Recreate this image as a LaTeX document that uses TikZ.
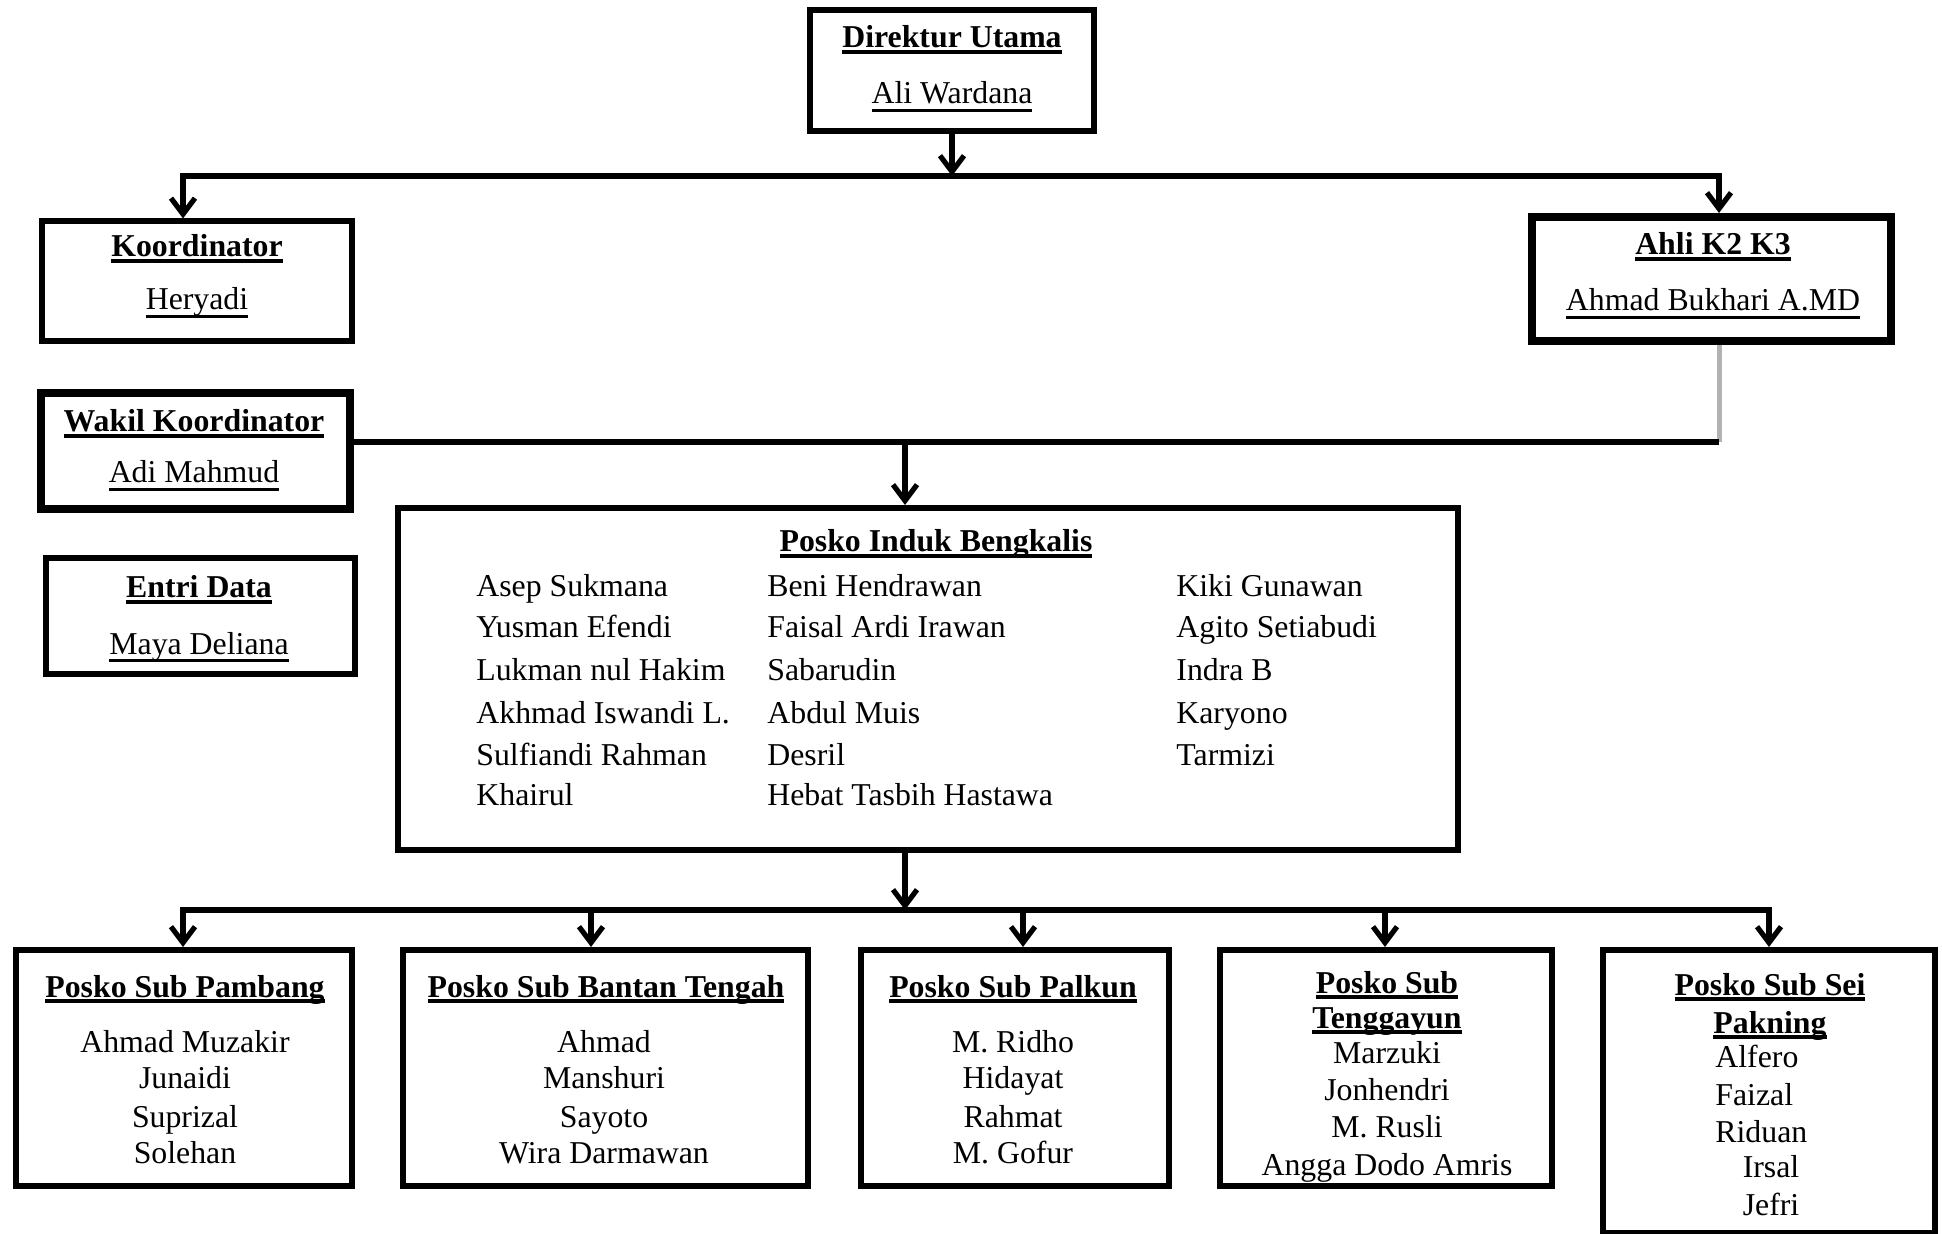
\documentclass[tikz,border=0pt]{standalone}
\usepackage{fontspec}
\setmainfont{Liberation Serif}
\usetikzlibrary{arrows.meta}
\newcommand\ulx[3]{\leavevmode\setbox0\hbox{#3}\rlap{\rule[#1]{\wd0}{#2}}\box0}
\newcommand\ulb[1]{\ulx{-3pt}{2pt}{\textbf{#1}}}
\newcommand\ulr[1]{\ulx{-3.8pt}{1.1pt}{#1}}
\begin{document}
\begin{tikzpicture}[x=0.5pt,y=-0.5pt,
  box/.style={draw, line width=3pt, inner sep=0pt},
  thickbox/.style={box, line width=4pt},
  txt/.style={inner sep=0pt, font=\fontsize{15.9pt}{19pt}\selectfont},
  conn/.style={line width=2.6pt},
  arr/.style={conn, -{Straight Barb[length=8pt,width=12pt]}},
  shade/.style={draw=black!30, line width=2.5pt},
]
\path[fill=white, use as bounding box] (0,0) rectangle (1942,1234);

% top level
\node[box, minimum width=142pt, minimum height=60.5pt] (dir) at (952,70.5) {};
\node[txt, anchor=base] (dirT) at (952,48) {\ulb{Direktur Utama}};
\node[txt, anchor=base] (dirN) at (952,104) {\ulr{Ali Wardana}};

\node[box, minimum width=155pt, minimum height=60pt] (koord) at (196.5,281.5) {};
\node[txt, anchor=base] (koordT) at (197,257) {\ulb{Koordinator}};
\node[txt, anchor=base] (koordN) at (197,310) {\ulr{Heryadi}};

\node[thickbox, minimum width=154.5pt, minimum height=58pt] (wakil) at (195.5,451.5) {};
\node[txt, anchor=base] (wakilT) at (194,432) {\ulb{Wakil Koordinator}};
\node[txt, anchor=base] (wakilN) at (194,483) {\ulr{Adi Mahmud}};

\node[box, minimum width=154.5pt, minimum height=58pt] (entri) at (200.5,616) {};
\node[txt, anchor=base] (entriT) at (199,598) {\ulb{Entri Data}};
\node[txt, anchor=base] (entriN) at (199,654) {\ulr{Maya Deliana}};

\node[thickbox, minimum width=179.5pt, minimum height=62pt] (ahli) at (1711.5,279) {};
\node[txt, anchor=base] (ahliT) at (1713,255) {\ulb{Ahli K2 K3}};
\node[txt, anchor=base] (ahliN) at (1713,311) {\ulr{Ahmad Bukhari A.MD}};

% posko induk
\node[box, minimum width=530pt, minimum height=171pt] (induk) at (928,679) {};
\node[txt, anchor=base] (indukT) at (936,552) {\ulb{Posko Induk Bengkalis}};
\foreach \n/\y in {Asep Sukmana/597, Yusman Efendi/638, Lukman nul Hakim/680, Akhmad Iswandi L./723, Sulfiandi Rahman/765, Khairul/805}
  \node[txt, anchor=base west] (ia\y) at (476,\y) {\n};
\foreach \n/\y in {Beni Hendrawan/597, Faisal Ardi Irawan/638, Sabarudin/680, Abdul Muis/723, Desril/765, Hebat Tasbih Hastawa/805}
  \node[txt, anchor=base west] (ib\y) at (767,\y) {\n};
\foreach \n/\y in {Kiki Gunawan/597, Agito Setiabudi/638, Indra B/680, Karyono/723, Tarmizi/765}
  \node[txt, anchor=base west] (ic\y) at (1176,\y) {\n};

% sub posko
\node[box, minimum width=168pt, minimum height=118pt] (pam) at (184,1068) {};
\node[txt, anchor=base] (pamT) at (185,997) {\ulb{Posko Sub Pambang}};
\foreach \n/\y in {Ahmad Muzakir/1052, Junaidi/1088, Suprizal/1127, Solehan/1163}
  \node[txt, anchor=base] (pa\y) at (185,\y) {\n};

\node[box, minimum width=202.5pt, minimum height=118pt] (ban) at (605.5,1068) {};
\node[txt, anchor=base] (banT) at (606,997) {\ulb{Posko Sub Bantan Tengah}};
\foreach \n/\y in {Ahmad/1052, Manshuri/1088, Sayoto/1127, Wira Darmawan/1163}
  \node[txt, anchor=base] (ba\y) at (604,\y) {\n};

\node[box, minimum width=154pt, minimum height=118pt] (pal) at (1015,1068) {};
\node[txt, anchor=base] (palT) at (1013,997) {\ulb{Posko Sub Palkun}};
\foreach \n/\y in {M. Ridho/1052, Hidayat/1088, Rahmat/1127, M. Gofur/1163}
  \node[txt, anchor=base] (pl\y) at (1013,\y) {\n};

\node[box, minimum width=166pt, minimum height=118pt] (ten) at (1386,1068) {};
\node[txt, anchor=base] (tenT1) at (1387,993) {\ulb{Posko Sub}};
\node[txt, anchor=base] (tenT2) at (1387,1028) {\ulb{Tenggayun}};
\foreach \n/\y in {Marzuki/1063, Jonhendri/1100, M. Rusli/1137, Angga Dodo Amris/1175}
  \node[txt, anchor=base] (te\y) at (1387,\y) {\n};

\node[box, minimum width=166pt, minimum height=141.5pt] (sei) at (1769,1091.5) {};
\node[txt, anchor=base] (seiT1) at (1770,995) {\ulb{Posko Sub Sei}};
\node[txt, anchor=base] (seiT2) at (1770,1033) {\ulb{Pakning}};
\foreach \n/\y in {Alfero/1067, Faizal/1105, Riduan/1142}
  \node[txt, anchor=base west] (se\y) at (1715,\y) {\n};
\node[txt, anchor=base] (se1177) at (1771,1177) {Irsal};
\node[txt, anchor=base] (se1215) at (1771,1215) {Jefri};

% connectors top
\coordinate (t0) at (952,176);
\coordinate (tl) at (183,176);
\coordinate (tr) at (1719,176);
\draw[arr] (dir.south) -- (t0);
\draw[arr] (t0) -| (tl |- koord.north);
\draw[arr] (t0) -| (tr |- ahli.north);

% middle
\coordinate (mr) at (1719,442);
\coordinate (mj) at (905,442);
\draw[shade] (ahli.south -| mr) -- (mr);
\draw[conn] (wakil.east |- mr) -- (mr);
\draw[arr] (mj) -- (mj |- induk.north);

% bottom
\coordinate (bj) at (905,910);
\coordinate (b1) at (183,910);
\coordinate (b2) at (591,910);
\coordinate (b3) at (1023,910);
\coordinate (b4) at (1385,910);
\coordinate (b5) at (1769,910);
\draw[arr] (induk.south -| bj) -- (bj);
\draw[arr] (bj) -| (b1 |- pam.north);
\draw[arr] (bj) -| (b5 |- sei.north);
\draw[arr] (b2) -- (b2 |- ban.north);
\draw[arr] (b3) -- (b3 |- pal.north);
\draw[arr] (b4) -- (b4 |- ten.north);
\end{tikzpicture}
\end{document}
